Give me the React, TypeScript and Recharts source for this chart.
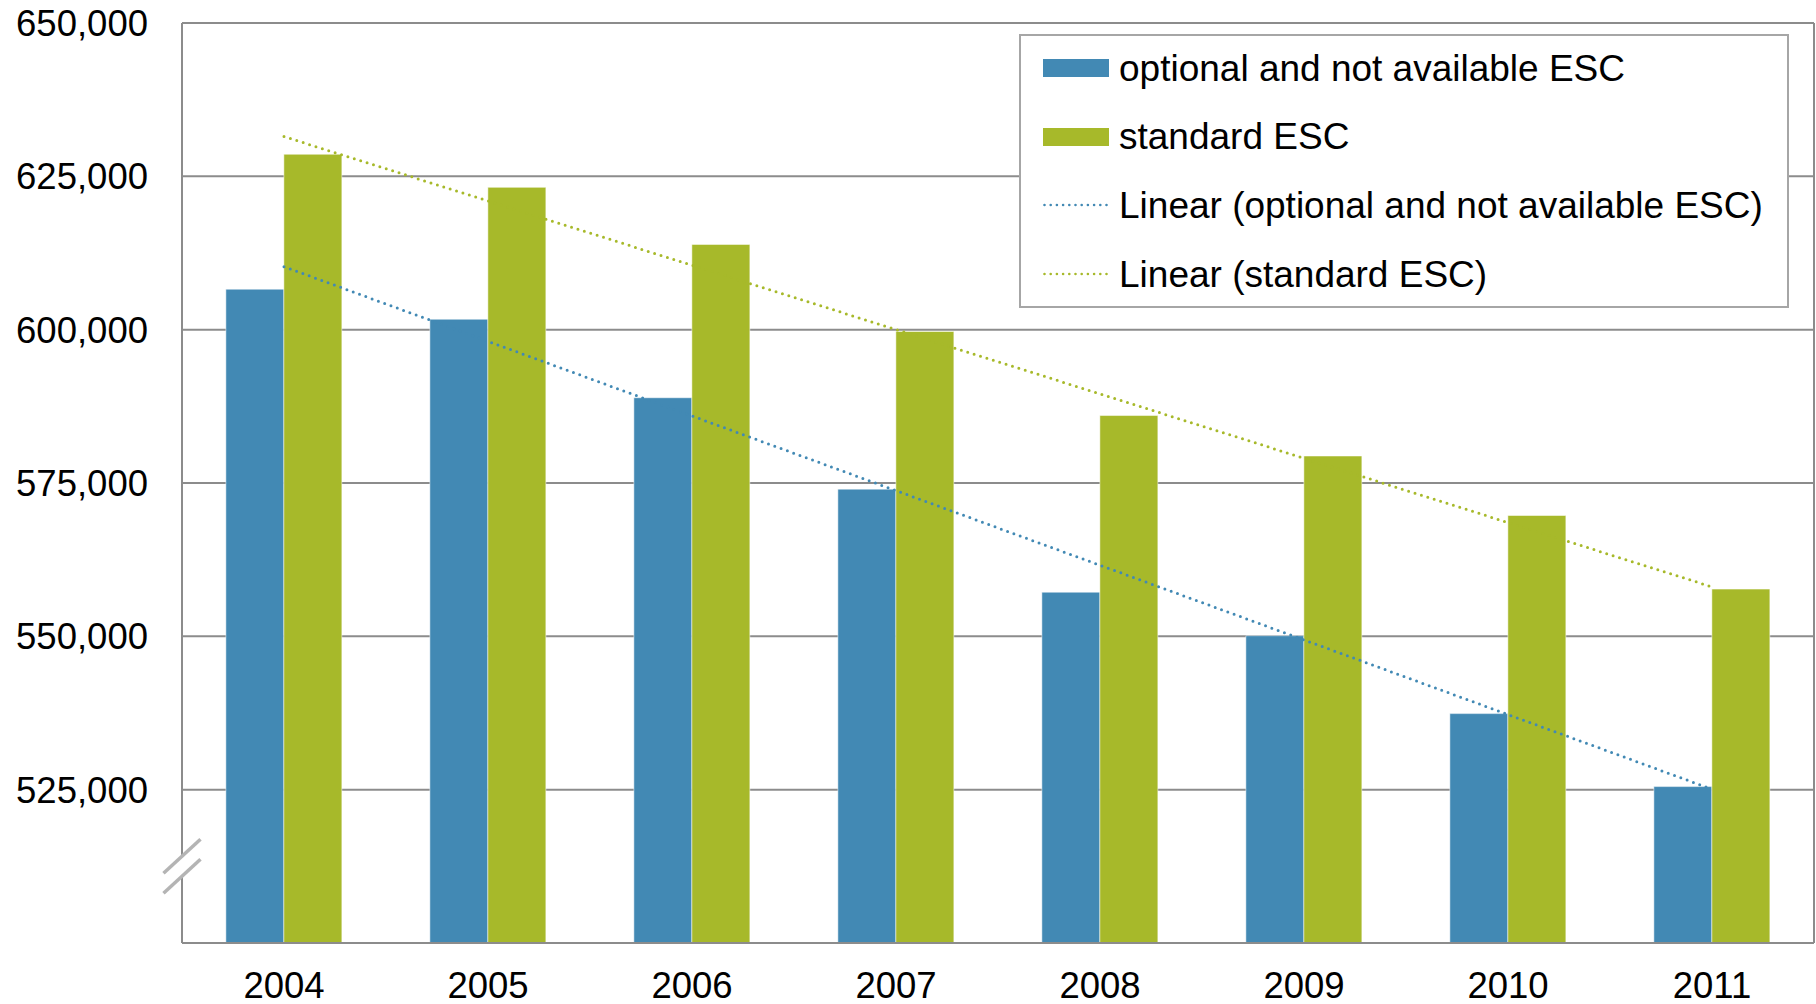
import { Bar, CartesianGrid, ComposedChart, Legend, Line, XAxis, YAxis } from 'recharts'

const years = ['2004', '2005', '2006', '2007', '2008', '2009', '2010', '2011']
const optionalEsc = [606600, 601700, 588900, 574000, 557200, 550100, 537400, 525500]
const standardEsc = [628600, 623200, 613900, 599700, 586000, 579400, 569700, 557700]
const yTicks = [525000, 550000, 575000, 600000, 625000, 650000]
const yDomain: [number, number] = [500000, 650000]
const axisBreakValue = 512500

const BLUE = '#4289b4'
const GREEN = '#a7b92a'
const GRID = '#8c8c8c'
const FONT = '"Liberation Sans", Arial, sans-serif'

// least squares fit, same as a spreadsheet "Linear" trendline
function linearTrend(values: number[]) {
  const n = values.length
  const mx = (n - 1) / 2
  const my = values.reduce((s, v) => s + v, 0) / n
  let sxy = 0
  let sxx = 0
  values.forEach((v, i) => {
    sxy += (i - mx) * (v - my)
    sxx += (i - mx) * (i - mx)
  })
  const slope = sxy / sxx
  return values.map((_, i) => my + slope * (i - mx))
}

const optionalTrend = linearTrend(optionalEsc)
const standardTrend = linearTrend(standardEsc)

const data = years.map((year, i) => ({
  year,
  optional: optionalEsc[i],
  standard: standardEsc[i],
  optionalTrend: optionalTrend[i],
  standardTrend: standardTrend[i],
}))

function AxisBreak(props: any) {
  const vb = props.viewBox
  if (!vb) return null
  const ax = vb.x + vb.width
  const cy = vb.y + (vb.height * (yDomain[1] - axisBreakValue)) / (yDomain[1] - yDomain[0])
  const dx = 18.5
  const dy = 17
  const gap = 10
  return (
    <g>
      <polygon
        points={`${ax - dx},${cy - gap + dy} ${ax + dx},${cy - gap - dy} ${ax + dx},${cy + gap - dy} ${ax - dx},${cy + gap + dy}`}
        fill="#fff"
      />
      <line x1={ax - dx} y1={cy - gap + dy} x2={ax + dx} y2={cy - gap - dy} stroke="#b4b4b4" strokeWidth={3.5} />
      <line x1={ax - dx} y1={cy + gap + dy} x2={ax + dx} y2={cy + gap - dy} stroke="#b4b4b4" strokeWidth={3.5} />
    </g>
  )
}

function LegendBox({ payload }: any) {
  const items = [...(payload || [])].sort((a: any, b: any) => (a.type === 'line' ? 1 : 0) - (b.type === 'line' ? 1 : 0))
  return (
    <div
      style={{
        width: 770,
        height: 274,
        boxSizing: 'border-box',
        border: '2px solid #a6a6a6',
        background: '#fff',
        fontFamily: FONT,
        fontSize: 37,
        color: '#000',
      }}
    >
      <div style={{ marginTop: -2 }}>
        {items.map((entry: any) => (
          <div key={entry.value} style={{ height: 68.6, display: 'flex', alignItems: 'center', paddingLeft: 22 }}>
            {entry.type === 'line' ? (
              <svg width={66} height={6} style={{ display: 'block' }}>
                <line x1={1.5} y1={3} x2={65} y2={3} stroke={entry.color} strokeWidth={2.6} strokeDasharray="0 6.2" strokeLinecap="round" />
              </svg>
            ) : (
              <div style={{ width: 66, height: 18, background: entry.color }} />
            )}
            <span style={{ marginLeft: 10, whiteSpace: 'nowrap', lineHeight: 1 }}>{entry.value}</span>
          </div>
        ))}
      </div>
    </div>
  )
}

export default function App() {
  const tick = { fill: '#000', fontSize: 36.5, fontFamily: FONT }
  return (
    <div style={{ position: 'absolute', left: 0, top: 0, background: '#fff' }}>
      <ComposedChart
        width={1816}
        height={1004}
        data={data}
        margin={{ top: 23, right: 0, bottom: 0, left: 0 }}
        barCategoryGap="21.5%"
        barGap={0}
      >
        <CartesianGrid horizontal vertical={false} stroke={GRID} strokeWidth={2} />
        <XAxis
          dataKey="year"
          height={61}
          tick={tick}
          tickLine={false}
          tickSize={0}
          tickMargin={29}
          axisLine={{ stroke: GRID, strokeWidth: 2 }}
        />
        <YAxis
          width={182}
          domain={yDomain}
          ticks={yTicks}
          interval={0}
          tick={tick}
          tickLine={false}
          tickSize={0}
          tickMargin={34}
          tickFormatter={(v: number) => v.toLocaleString('en-US')}
          axisLine={{ stroke: GRID, strokeWidth: 2 }}
          label={AxisBreak}
        />
        <YAxis yAxisId="frame" orientation="right" width={2} tick={false} tickLine={false} axisLine={{ stroke: GRID, strokeWidth: 2 }} />
        <Bar dataKey="optional" name="optional and not available ESC" fill={BLUE} stroke="#ffffff" strokeOpacity={0.5} strokeWidth={1} isAnimationActive={false} />
        <Bar dataKey="standard" name="standard ESC" fill={GREEN} stroke="#ffffff" strokeOpacity={0.5} strokeWidth={1} isAnimationActive={false} />
        <Line
          dataKey="optionalTrend"
          name="Linear (optional and not available ESC)"
          type="linear"
          stroke={BLUE}
          strokeWidth={3}
          strokeDasharray="0 6.7"
          strokeLinecap="round"
          dot={false}
          activeDot={false}
          legendType="line"
          isAnimationActive={false}
        />
        <Line
          dataKey="standardTrend"
          name="Linear (standard ESC)"
          type="linear"
          stroke={GREEN}
          strokeWidth={3}
          strokeDasharray="0 6.7"
          strokeLinecap="round"
          dot={false}
          activeDot={false}
          legendType="line"
          isAnimationActive={false}
        />
        <Legend
          layout="horizontal"
          verticalAlign="middle"
          align="center"
          content={LegendBox}
          wrapperStyle={{ left: 1019, top: 34, width: 770, height: 274 }}
        />
      </ComposedChart>
    </div>
  )
}
